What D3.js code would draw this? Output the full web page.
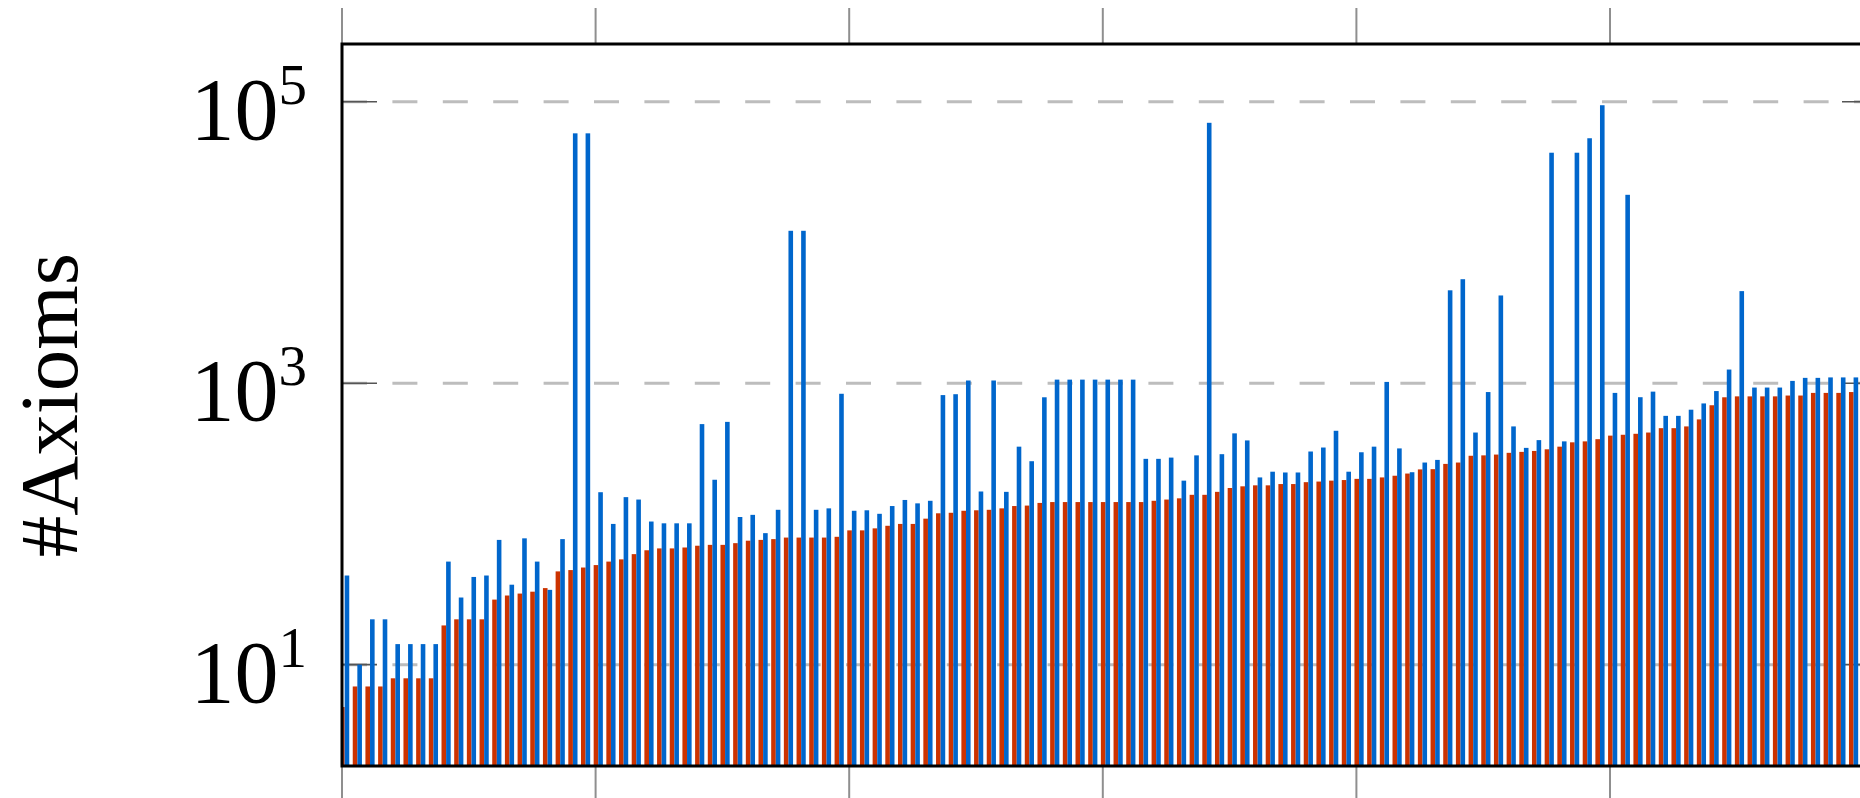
<!DOCTYPE html>
<html>
<head>
<meta charset="utf-8">
<script src="https://cdn.jsdelivr.net/npm/d3@7"></script>
<style>
    html, body { margin: 0; padding: 0; background: #fff; overflow: hidden; }
    svg { display: block; }
    .label { font-family: "Liberation Serif", "DejaVu Serif", serif; fill: #000; }
</style>
</head>
<body>
<div id="graphic"></div>
<script>
// Sorted ontologies: axioms before (red) and after (blue)
let before = [
    5, 7, 7, 7, 8, 8, 8, 8, 19, 21,
    21, 21, 29, 31, 32, 33, 35, 46, 47, 49,
    51, 54, 56, 61, 65, 67, 67, 68, 70, 71,
    71, 73, 76, 77, 78, 80, 80, 80, 80, 81,
    90, 90, 93, 97, 100, 100, 109, 119, 120, 124,
    125, 126, 129, 134, 135, 141, 143, 143, 143, 143,
    143, 143, 143, 143, 146, 149, 152, 161, 161, 169,
    180, 185, 188, 188, 192, 192, 198, 200, 203, 205,
    209, 209, 214, 220, 228, 244, 245, 267, 273, 305,
    307, 311, 320, 325, 330, 339, 354, 380, 386, 400,
    424, 430, 437, 446, 479, 479, 493, 553, 697, 794,
    806, 806, 806, 806, 817, 817, 853, 853, 853, 865
];

let after = [
    43, 10, 21, 21, 14, 14, 14, 14, 54, 30,
    42, 43, 77, 37, 79, 54, 34, 78, 59600, 59600,
    168, 100, 155, 149, 104, 101, 101, 101, 512, 206,
    531, 112, 116, 86, 126, 12100, 12100, 126, 129, 841,
    124, 125, 118, 134, 148, 140, 146, 823, 835, 1045,
    170, 1045, 169, 354, 279, 794, 1060, 1060, 1060, 1060,
    1060, 1060, 1060, 290, 290, 296, 203, 307, 70800, 313,
    440, 392, 214, 235, 232, 232, 327, 349, 459, 235,
    323, 354, 1021, 344, 233, 273, 285, 4570, 5480, 446,
    865, 4200, 493, 347, 394, 43400, 386, 43400, 55000, 94400,
    853, 21800, 795, 871, 586, 586, 648, 718, 879, 1250,
    4510, 931, 931, 931, 1038, 1091, 1091, 1099, 1099, 1099
];

let yTicks = [1, 3, 5];          // exponents of ten
let xTicks = [0, 20, 40, 60, 80, 100, 120];

(function(d3){

    // Canvas size
    let width = 1860, height = 798;

    // Plot frame (the right edge runs just past the canvas)
    let left = 342, right = 1877, top = 44, bottom = 766;

    let barWidth = 4.6;
    let red = '#cc3300', blue = '#0066cc';

    let svg = d3.select('#graphic')
                .append('svg')
                .attr('width', width)
                .attr('height', height);

    // x: one unit per ontology, ticks every 20
    let x = d3.scaleLinear()
        .domain([0, 20])
        .range([left, left + 253.6]);

    let y = d3.scaleLog()
        .domain([Math.pow(10, 0.28), Math.pow(10, 5.41)])
        .range([bottom, top]);

    svg.append('clipPath')
        .attr('id', 'plot-clip')
        .append('rect')
        .attr('x', left)
        .attr('y', top)
        .attr('width', right - left)
        .attr('height', bottom - top);

    // Dashed horizontal grid at each labelled decade
    yTicks.forEach(e => {
        let yy = y(Math.pow(10, e));
        svg.append('line')
           .attr('x1', left).attr('x2', right)
           .attr('y1', yy).attr('y2', yy)
           .attr('stroke', '#bdbdbd')
           .attr('stroke-width', 3)
           .attr('stroke-dasharray', '25 25.4');

        // inner tick marks on both sides
        [[left, left + 35], [right - 35, right]].forEach(t => {
            svg.append('line')
               .attr('x1', t[0]).attr('x2', t[1])
               .attr('y1', yy).attr('y2', yy)
               .attr('stroke', '#555')
               .attr('stroke-width', 1.6);
        });
    });

    // Outside x ticks, top and bottom
    xTicks.forEach(v => {
        let xx = x(v);
        [[top - 36, top], [bottom, bottom + 36]].forEach(t => {
            svg.append('line')
               .attr('x1', xx).attr('x2', xx)
               .attr('y1', t[0]).attr('y2', t[1])
               .attr('stroke', '#8f8f8f')
               .attr('stroke-width', 2);
        });
    });

    // Bars: red (before) left of the group centre, blue (after) right of it
    let bars = svg.append('g').attr('clip-path', 'url(#plot-clip)');

    let centre = i => x(i + 0.21);

    bars.selectAll('rect.before')
        .data(before)
        .enter().append('rect')
        .attr('class', 'before')
        .attr('x', (d, i) => centre(i) - barWidth)
        .attr('y', d => y(d))
        .attr('width', barWidth)
        .attr('height', d => bottom - y(d))
        .attr('fill', red);

    bars.selectAll('rect.after')
        .data(after)
        .enter().append('rect')
        .attr('class', 'after')
        .attr('x', (d, i) => centre(i))
        .attr('y', d => y(d))
        .attr('width', barWidth)
        .attr('height', d => bottom - y(d))
        .attr('fill', blue);

    // Frame
    svg.append('rect')
       .attr('x', left)
       .attr('y', top)
       .attr('width', right - left)
       .attr('height', bottom - top)
       .attr('fill', 'none')
       .attr('stroke', '#000')
       .attr('stroke-width', 3);

    // Tick labels 10^e
    yTicks.forEach(e => {
        let t = svg.append('text')
           .attr('class', 'label')
           .attr('x', 307)
           .attr('y', y(Math.pow(10, e)) + 37)
           .attr('text-anchor', 'end')
           .style('font-size', '88px')
           .text('10');
        t.append('tspan')
           .attr('dy', -35)
           .style('font-size', '57px')
           .text(e);
    });

    // Axis title
    svg.append('text')
       .attr('class', 'label')
       .attr('transform', `translate(77 ${(top + bottom) / 2}) rotate(-90)`)
       .attr('text-anchor', 'middle')
       .style('font-size', '83px')
       .text('#Axioms');

})(window.d3);
</script>
</body>
</html>
